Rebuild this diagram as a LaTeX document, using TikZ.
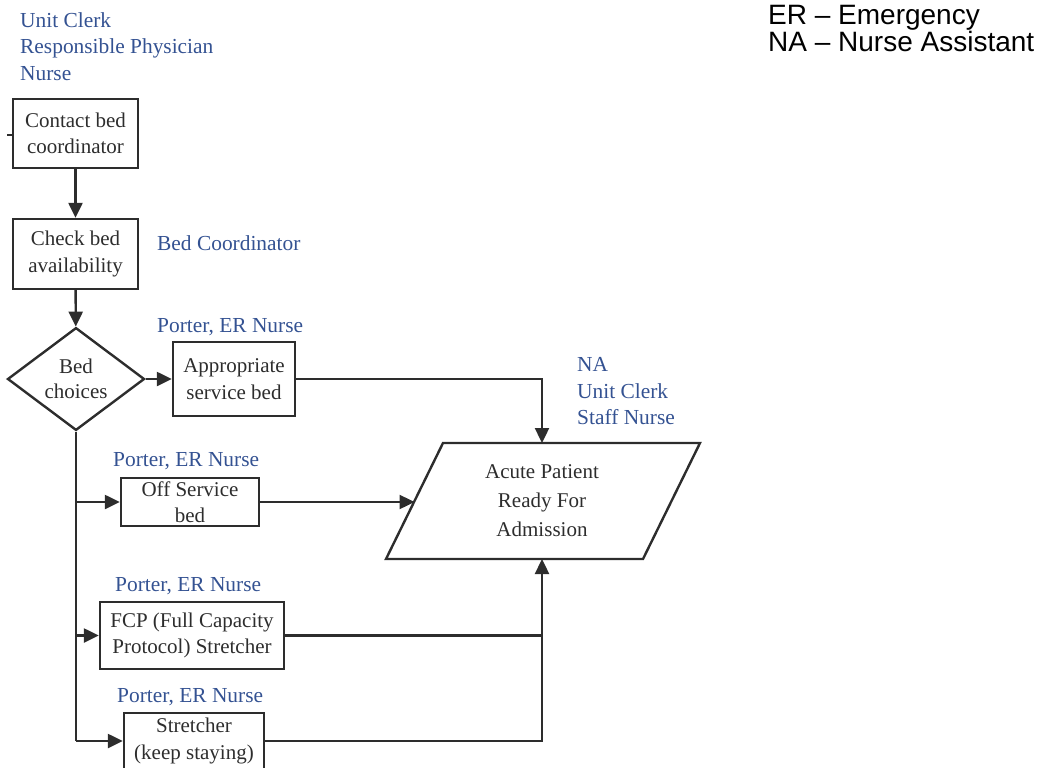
\documentclass[tikz,border=0pt]{standalone}
\usepackage{fontspec}
\setmainfont{LiberationSerif}[Extension=.ttf,UprightFont=*-Regular,BoldFont=*-Bold,ItalicFont=*-Italic]
\newfontfamily\legendfont{Liberation Sans}
\usetikzlibrary{shapes.geometric,arrows.meta}
\definecolor{rolecol}{RGB}{52,82,146}
\definecolor{inkcol}{RGB}{45,45,45}
\begin{document}
\begin{tikzpicture}[x=1pt,y=-1pt,
  stepbox/.style={draw=inkcol,line width=2.4pt,inner sep=0pt,align=center,
    text=inkcol,font=\fontsize{21}{26.5}\selectfont},
  choice/.style={diamond,draw=inkcol,line width=2.4pt,inner sep=0pt,align=center,
    text=inkcol,font=\fontsize{21}{25}\selectfont},
  role/.style={text=rolecol,inner sep=0pt,anchor=west,align=left,
    font=\fontsize{21.4}{26.5}\selectfont},
  flow/.style={draw=inkcol,line width=2.4pt,-{Triangle[length=15pt,width=14pt]}},
  link/.style={draw=inkcol,line width=2.4pt},
  legend/.style={inner sep=0pt,anchor=west,align=left,
    font=\legendfont\fontsize{28}{23}\selectfont}]
\useasboundingbox (0,0) rectangle (1052,768);

% legend
\node[legend] (legER) at (768,18) {ER \textendash\ Emergency};
\node[legend] (legNA) at (768,41) {NA \textendash\ Nurse Assistant};

% process steps
\node[stepbox,minimum width=125pt,minimum height=69pt] (contact) at (75.5,133.5)
  {Contact bed\\coordinator};
\node[stepbox,minimum width=125pt,minimum height=70pt] (check) at (75.5,254)
  {Check bed\\availability};
\node[choice,minimum width=137pt,minimum height=84pt] (choices) at (76,379)
  {Bed\\choices};
\node[stepbox,minimum width=122pt,minimum height=74pt] (approp) at (234,379)
  {Appropriate\\service bed};
\node[stepbox,minimum width=138pt,minimum height=48pt] (offserv) at (190,502)
  {Off Service\\bed};
\node[stepbox,minimum width=184pt,minimum height=67pt] (fcp) at (192,635.5)
  {FCP (Full Capacity\\Protocol) Stretcher};
\node[stepbox,minimum width=140pt,minimum height=56pt] (stretch) at (194,741)
  {Stretcher\\(keep staying)};

% admission (parallelogram)
\coordinate (pTop) at (542,443);
\coordinate (pLeft) at (414.5,502);
\coordinate (pBot) at (542,559);
\draw[link,line join=miter] (443,443) -- (700,443) -- (643,559) -- (386,559) -- cycle;
\node[text=inkcol,align=center,inner sep=0pt,font=\fontsize{21}{29}\selectfont]
  (acute) at (542,501) {Acute Patient\\Ready For\\Admission};

% roles
\node[role] (rolesA) at (20,46.5) {Unit Clerk\\Responsible Physician\\Nurse};
\node[role] (rolesB) at (157,243) {Bed Coordinator};
\node[role] (rolesC) at (157,327) {Porter, ER Nurse};
\node[role] (rolesD) at (577,391.5) {NA\\Unit Clerk\\Staff Nurse};
\node[role] (rolesE) at (113,461) {Porter, ER Nurse};
\node[role] (rolesF) at (115,586) {Porter, ER Nurse};
\node[role] (rolesG) at (117,697) {Porter, ER Nurse};

% connectors
\coordinate (stub) at (7,135);
\draw[link] (stub) -- (contact.west|-stub);
\draw[flow] (contact) -- (check);
\draw[flow] (check) -- (choices);
\draw[flow] (choices) -- (approp);
\coordinate (trunk) at (76,741);
\draw[link] (choices.south) -- (trunk);
\draw[flow] (choices.south|-offserv) -- (offserv);
\draw[flow] (choices.south|-fcp) -- (fcp);
\draw[flow] (trunk) -- (stretch);
\draw[flow] (approp.east) -| (pTop);
\draw[flow] (offserv.east) -- (pLeft);
\draw[link] (fcp.east) -- (fcp.east-|pBot);
\draw[flow] (stretch.east) -| (pBot);
\end{tikzpicture}
\end{document}
